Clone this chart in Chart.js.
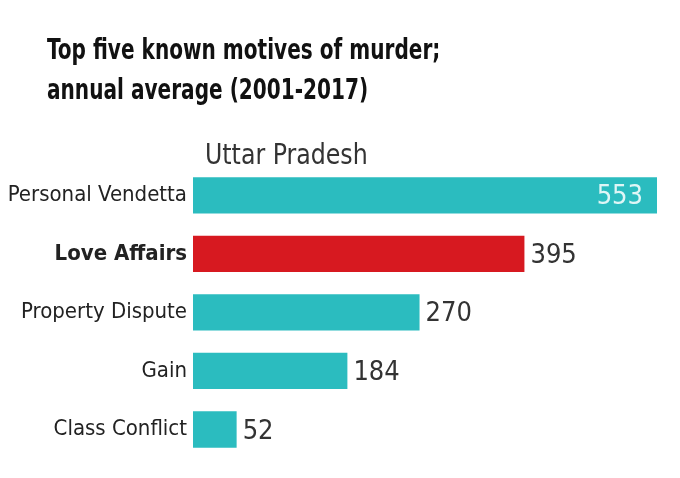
<!DOCTYPE html>
<html>
<head>
<meta charset="utf-8">
<script src="https://cdn.jsdelivr.net/npm/chart.js@4"></script>
<style>
  html, body { margin: 0; padding: 0; background: #fff; }
  #wrap { position: relative; width: 680px; height: 478px; }
  #title {
    position: absolute; left: 47px; top: 29px; margin: 0; white-space: nowrap;
    font-family: "Liberation Sans Narrow", "DejaVu Sans Condensed", sans-serif;
    font-weight: bold; font-size: 29px; line-height: 40px; color: #111;
    transform: scaleX(0.77); transform-origin: left top;
  }
  #sub {
    position: absolute; left: 205px; top: 138px; white-space: nowrap;
    font-family: "Liberation Sans Narrow", "DejaVu Sans Condensed", sans-serif;
    font-size: 28px; color: #333;
    transform: scaleX(0.94); transform-origin: left top;
  }
  canvas { position: absolute; left: 0; top: 0; }
</style>
</head>
<body>
<div id="wrap">
  <canvas id="myChart" width="680" height="478"></canvas>
  <h1 id="title">Top five known motives of murder;<br>annual average (2001-2017)</h1>
  <div id="sub">Uttar Pradesh</div>
</div>
<script>
// data
const motives = ['Personal Vendetta', 'Love Affairs', 'Property Dispute', 'Gain', 'Class Conflict'];
const averages = [553, 395, 270, 184, 52];
const highlight = 1; // Love Affairs

const teal = '#2bbcbf';
const red = '#d71920';
const narrow = '"Liberation Sans Narrow", "DejaVu Sans Condensed", sans-serif';

// draw the value next to (or inside) each bar
const valueLabels = {
  id: 'valueLabels',
  afterDatasetsDraw(chart) {
    const ctx = chart.ctx;
    const meta = chart.getDatasetMeta(0);
    ctx.save();
    ctx.font = '27px ' + narrow;
    ctx.textBaseline = 'middle';
    meta.data.forEach(function(bar, i) {
      const v = chart.data.datasets[0].data[i];
      if (i === 0) {
        ctx.fillStyle = '#dff6f6';
        ctx.textAlign = 'right';
        ctx.fillText(v, bar.x - 14, bar.y + 2);
      } else {
        ctx.fillStyle = '#333';
        ctx.textAlign = 'left';
        ctx.fillText(v, bar.x + 6, bar.y + 2);
      }
    });
    ctx.restore();
  }
};

const config = {
  type: 'bar',
  data: {
    labels: motives,
    datasets: [{
      data: averages,
      backgroundColor: motives.map((m, i) => i === highlight ? red : teal),
      barPercentage: 0.62,
      categoryPercentage: 1
    }]
  },
  options: {
    indexAxis: 'y',
    responsive: false,
    animation: false,
    layout: { padding: { top: 166, right: 23, bottom: 19, left: 0 } },
    plugins: {
      legend: { display: false },
      tooltip: { enabled: false }
    },
    scales: {
      x: { display: false, min: 0, max: 553 },
      y: {
        grid: { display: false, drawTicks: false },
        border: { display: false },
        afterFit: function(scale) { scale.width = 193; },
        ticks: {
          padding: 6,
          color: '#222',
          font: function(c) {
            return { family: narrow, size: 22, weight: c.index === highlight ? 'bold' : 'normal' };
          }
        }
      }
    }
  },
  plugins: [valueLabels]
};

var myChart = new Chart(document.getElementById('myChart'), config);
</script>
</body>
</html>
